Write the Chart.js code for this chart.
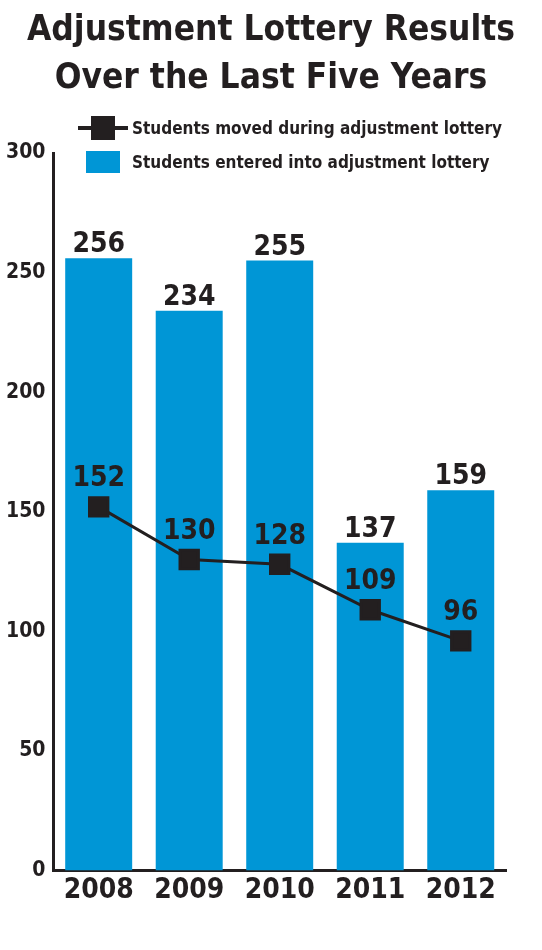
<!DOCTYPE html>
<html><head><meta charset="utf-8">
<script src="https://cdn.jsdelivr.net/npm/chart.js@4"></script>
<style>
body{margin:0;background:#fff;font-family:'Liberation Sans Narrow','DejaVu Sans Condensed',sans-serif;}
#wrap{position:relative;width:542px;height:950px;}
#title{position:absolute;top:4px;left:0;width:542px;text-align:center;font-weight:bold;font-size:35px;line-height:48px;color:#231f20;}
.leg{position:absolute;left:78px;font-weight:bold;font-size:17px;color:#231f20;display:flex;align-items:center;white-space:nowrap;}
canvas{position:absolute;top:0;left:0;}
</style></head><body>
<div id="wrap">
<canvas id="c" width="542" height="950"></canvas>
<div id="title">Adjustment Lottery Results<br>Over the Last Five Years</div>
<div class="leg" style="top:116px"><span style="position:relative;width:50px;height:24px;display:inline-block;margin-right:4px"><span style="position:absolute;left:0;top:10px;width:50px;height:4px;background:#231f20"></span><span style="position:absolute;left:13px;top:0;width:24px;height:24px;background:#231f20"></span></span>Students moved during adjustment lottery</div>
<div class="leg" style="top:151px"><span style="width:34px;height:22px;background:#0096d6;display:inline-block;margin:0 12px 0 8px"></span>Students entered into adjustment lottery</div>
</div>
<script>
const categories=['2008','2009','2010','2011','2012'];
const entered=[256,234,255,137,159];
const moved=[152,130,128,109,96];
const yTicks=[0,50,100,150,200,250,300];
const FONT="'Liberation Sans Narrow','DejaVu Sans Condensed',sans-serif";
const labels={id:'labels',afterDatasetsDraw(ch){
 const ctx=ch.ctx;ctx.save();ctx.fillStyle='#231f20';ctx.textAlign='center';ctx.textBaseline='bottom';
 ctx.font='bold 28px '+FONT;
 ch.getDatasetMeta(1).data.forEach((b,i)=>ctx.fillText(entered[i],b.x,b.y+1));
 ch.getDatasetMeta(0).data.forEach((p,i)=>ctx.fillText(moved[i],p.x,p.y-14));
 ctx.restore();}};
new Chart(document.getElementById('c'),{
 data:{labels:categories,datasets:[
  {type:'line',data:moved,borderColor:'#231f20',backgroundColor:'#231f20',borderWidth:3,pointStyle:'rect',pointRadius:13,pointHoverRadius:13,order:0},
  {type:'bar',data:entered,backgroundColor:'#0096d6',barPercentage:0.74,categoryPercentage:1,order:1}
 ]},
 options:{responsive:false,animation:false,events:[],
  layout:{padding:{top:153,left:4,right:36,bottom:38}},
  plugins:{legend:{display:false},tooltip:{enabled:false}},
  scales:{
   x:{grid:{display:false,drawTicks:false},border:{color:'#231f20',width:3},ticks:{color:'#231f20',font:{family:FONT,size:28,weight:'bold'},padding:4}},
   y:{min:0,max:300,afterBuildTicks(s){s.ticks=yTicks.map(v=>({value:v}));},grid:{display:false,drawTicks:true,tickLength:6,color:'#231f20',lineWidth:2},border:{color:'#231f20',width:3},ticks:{color:'#231f20',font:{family:FONT,size:21,weight:'bold'},padding:2}}
  }},
 plugins:[labels]});
</script></body></html>
